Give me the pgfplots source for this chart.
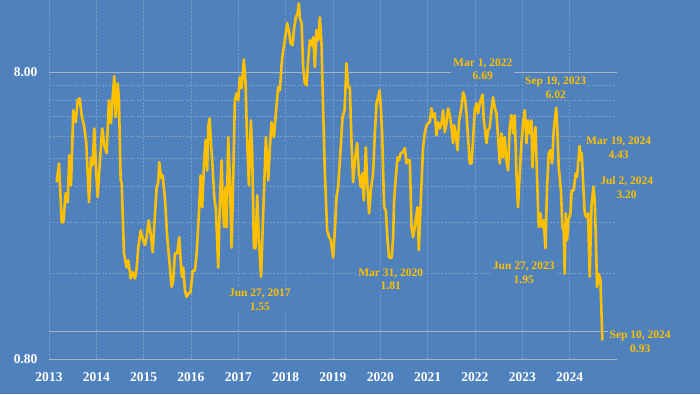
\documentclass[border=0pt]{standalone}
\usepackage{pgfplots}
\pgfplotsset{compat=1.18}
\usepackage{fontspec}
\setmainfont{Liberation Serif}
\definecolor{bgblue}{HTML}{4F81BD}
\definecolor{gold}{HTML}{FFC000}
\definecolor{gridc}{HTML}{A9B4C6}
\begin{document}
\begin{tikzpicture}
\fill[bgblue] (0,0) rectangle (700pt,394pt);
\begin{axis}[
  at={(49pt,35pt)}, anchor=south west,
  scale only axis, width=568pt, height=359pt,
  ymode=log, ymin=0.8, ymax=14.26,
  xmin=2013, xmax=2025,
  xtick={2013,...,2024},
  xticklabel style={/pgf/number format/1000 sep={}},
  ytick={0.8,8}, yticklabels={0.80,8.00},
  minor ytick={1.6,2.4,3.2,4,4.8,5.6,6.4,7.2},
  extra y ticks={1}, extra y tick labels={},
  extra y tick style={grid=major, major tick length=0pt},
  ymajorgrids, yminorgrids, xmajorgrids,
  major grid style={gridc, line width=0.9pt},
  minor grid style={gridc!55!bgblue, dash pattern=on 2pt off 1.5pt, line width=0.5pt},
  x grid style={gridc!50!bgblue, dash pattern=on 2pt off 1.5pt, line width=0.5pt},
  axis line style={draw=none},
  tick style={draw=none},
  tick label style={white, font=\fontsize{13.5}{14}\selectfont\bfseries},
  /pgf/number format/assume math mode=true,
  xticklabel style={yshift=-10pt},
  yticklabel style={xshift=-8pt},
  clip=false,
]
\addplot[gold, line width=2.6pt, line join=round] coordinates {
(2013.163,3.31)(2013.211,3.85)(2013.268,2.40)(2013.302,2.40)(2013.353,3.03)(2013.395,2.82)
(2013.429,4.11)(2013.465,3.23)(2013.513,5.90)(2013.564,5.36)(2013.606,6.39)(2013.648,6.49)
(2013.690,5.67)(2013.745,5.15)(2013.788,4.53)(2013.845,2.82)(2013.887,4.04)(2013.923,3.79)
(2013.957,5.10)(2013.992,3.73)(2014.028,2.94)(2014.077,3.95)(2014.125,5.10)(2014.168,4.45)
(2014.218,4.18)(2014.267,6.39)(2014.309,5.31)(2014.345,6.55)(2014.379,7.75)(2014.408,5.58)
(2014.451,7.32)(2014.478,6.39)(2014.514,3.36)(2014.535,3.31)(2014.584,1.87)(2014.641,1.67)
(2014.675,1.77)(2014.725,1.53)(2014.768,1.61)(2014.816,1.53)(2014.852,1.66)(2014.886,1.96)
(2014.936,2.25)(2014.978,2.11)(2015.027,2.00)(2015.063,2.13)(2015.105,2.44)(2015.147,2.20)
(2015.190,1.89)(2015.223,2.31)(2015.274,3.18)(2015.308,3.31)(2015.329,3.89)(2015.371,3.42)
(2015.401,3.50)(2015.449,2.91)(2015.498,2.13)(2015.555,1.67)(2015.591,1.43)(2015.625,1.51)
(2015.660,1.87)(2015.709,1.87)(2015.751,2.13)(2015.781,1.77)(2015.808,1.55)(2015.836,1.67)
(2015.872,1.39)(2015.907,1.32)(2015.950,1.36)(2015.992,1.37)(2016.034,1.63)(2016.083,1.63)
(2016.119,1.87)(2016.167,2.58)(2016.203,3.50)(2016.237,2.71)(2016.279,3.95)(2016.309,4.64)
(2016.343,3.64)(2016.364,5.15)(2016.393,5.53)(2016.421,4.53)(2016.448,3.95)(2016.491,2.94)
(2016.527,2.64)(2016.575,1.67)(2016.611,2.86)(2016.647,3.95)(2016.674,2.71)(2016.702,2.31)
(2016.731,3.18)(2016.752,2.31)(2016.786,4.75)(2016.822,3.36)(2016.858,1.96)(2016.891,3.36)
(2016.927,6.39)(2016.963,6.76)(2016.997,6.39)(2017.033,7.69)(2017.069,7.04)(2017.117,8.88)
(2017.153,7.32)(2017.181,4.90)(2017.223,3.23)(2017.265,5.44)(2017.293,4.18)(2017.329,1.95)
(2017.364,1.95)(2017.398,2.98)(2017.434,2.08)(2017.480,1.55)(2017.515,2.31)(2017.550,3.36)
(2017.582,4.75)(2017.631,3.36)(2017.666,4.38)(2017.702,5.36)(2017.751,4.75)(2017.793,5.76)
(2017.842,7.09)(2017.878,6.92)(2017.913,8.46)(2017.947,9.55)(2017.983,10.34)(2018.032,11.86)
(2018.074,11.02)(2018.104,10.10)(2018.146,9.94)(2018.173,11.21)(2018.215,12.44)(2018.251,12.84)
(2018.279,13.91)(2018.300,12.34)(2018.336,11.86)(2018.370,8.33)(2018.405,7.32)(2018.441,7.21)
(2018.475,8.81)(2018.511,10.34)(2018.547,9.94)(2018.581,10.60)(2018.617,8.33)(2018.652,11.21)
(2018.686,10.34)(2018.722,12.44)(2018.757,10.10)(2018.792,5.90)(2018.828,3.56)(2018.876,2.25)
(2018.918,2.13)(2018.954,2.08)(2019.003,1.81)(2019.039,2.25)(2019.074,2.94)(2019.108,3.18)
(2019.159,4.28)(2019.201,5.58)(2019.244,5.90)(2019.286,8.60)(2019.320,7.09)(2019.356,7.09)
(2019.392,4.53)(2019.425,3.31)(2019.461,3.95)(2019.510,4.53)(2019.546,3.56)(2019.588,3.18)
(2019.624,3.56)(2019.651,2.86)(2019.693,4.38)(2019.721,3.36)(2019.763,2.58)(2019.799,3.10)
(2019.848,3.56)(2019.884,4.90)(2019.920,6.24)(2019.953,6.55)(2019.983,6.92)(2020.010,6.04)
(2020.038,4.90)(2020.080,2.71)(2020.116,2.64)(2020.152,2.08)(2020.185,1.81)(2020.240,1.81)
(2020.270,2.13)(2020.291,2.86)(2020.327,3.45)(2020.363,4.04)(2020.397,3.95)(2020.432,4.18)
(2020.475,4.21)(2020.517,4.35)(2020.553,3.85)(2020.587,3.95)(2020.623,3.95)(2020.659,2.31)
(2020.692,2.13)(2020.728,2.31)(2020.785,2.71)(2020.813,1.92)(2020.855,2.86)(2020.903,4.38)
(2020.939,4.90)(2020.975,5.23)(2021.009,5.31)(2021.045,5.36)(2021.081,5.99)(2021.115,5.58)
(2021.150,5.76)(2021.186,4.83)(2021.220,5.36)(2021.256,5.10)(2021.292,5.31)(2021.326,5.90)
(2021.361,4.94)(2021.397,5.31)(2021.431,5.99)(2021.467,5.67)(2021.503,5.15)(2021.537,4.53)
(2021.558,5.23)(2021.594,4.90)(2021.630,4.28)(2021.664,5.44)(2021.714,6.04)(2021.748,6.81)
(2021.784,6.55)(2021.820,5.76)(2021.853,4.75)(2021.889,3.85)(2021.925,3.85)(2021.959,4.64)
(2021.995,5.90)(2022.031,6.24)(2022.065,5.76)(2022.101,6.24)(2022.160,6.69)(2022.185,5.44)
(2022.206,5.15)(2022.242,4.53)(2022.276,5.02)(2022.312,5.15)(2022.348,5.90)(2022.381,6.55)
(2022.417,6.04)(2022.453,5.76)(2022.487,4.75)(2022.523,3.85)(2022.559,4.90)(2022.593,4.04)
(2022.628,4.75)(2022.664,3.95)(2022.698,3.64)(2022.734,5.15)(2022.770,5.67)(2022.804,4.90)
(2022.840,5.67)(2022.875,3.56)(2022.909,2.71)(2022.945,3.56)(2022.981,4.53)(2023.015,5.31)
(2023.051,5.90)(2023.087,4.53)(2023.120,5.44)(2023.156,4.90)(2023.192,5.44)(2023.213,3.73)
(2023.241,4.64)(2023.277,5.15)(2023.311,3.45)(2023.346,2.31)(2023.382,2.58)(2023.416,2.31)
(2023.452,2.44)(2023.488,1.95)(2023.522,3.18)(2023.558,4.18)(2023.594,4.28)(2023.628,3.85)
(2023.663,5.02)(2023.715,6.02)(2023.740,5.02)(2023.769,3.73)(2023.816,3.10)(2023.847,2.31)
(2023.874,2.25)(2023.895,1.59)(2023.916,2.58)(2023.944,2.08)(2023.973,2.44)(2024.016,2.58)
(2024.043,3.10)(2024.085,3.10)(2024.128,3.56)(2024.155,3.45)(2024.210,4.43)(2024.232,3.95)
(2024.255,4.18)(2024.282,3.36)(2024.318,2.58)(2024.354,2.50)(2024.388,2.58)(2024.423,1.55)
(2024.459,2.71)(2024.500,3.20)(2024.529,2.86)(2024.550,2.20)(2024.578,1.43)(2024.607,1.59)
(2024.634,1.55)(2024.649,1.51)(2024.691,0.93)
};
\tikzset{ann/.style={fill=bgblue, text=gold, align=center, inner sep=2pt,
  font=\fontsize{11.5}{13.5}\selectfont\bfseries}}
\node[ann] at (axis cs:2022.164,8.19) {Mar 1, 2022\\6.69};
\node[ann] at (axis cs:2023.705,7.07) {Sep 19, 2023\\6.02};
\node[ann] at (axis cs:2025.035,4.37) {Mar 19, 2024\\4.43};
\node[ann] at (axis cs:2025.204,3.17) {Jul 2, 2024\\3.20};
\node[ann] at (axis cs:2017.455,1.29) {Jun 27, 2017\\1.55};
\node[ann] at (axis cs:2020.221,1.52) {Mar 31, 2020\\1.81};
\node[ann] at (axis cs:2023.030,1.60) {Jun 27, 2023\\1.95};
\node[ann] at (axis cs:2025.490,0.92) {Sep 10, 2024\\0.93};
\end{axis}
\end{tikzpicture}
\end{document}
